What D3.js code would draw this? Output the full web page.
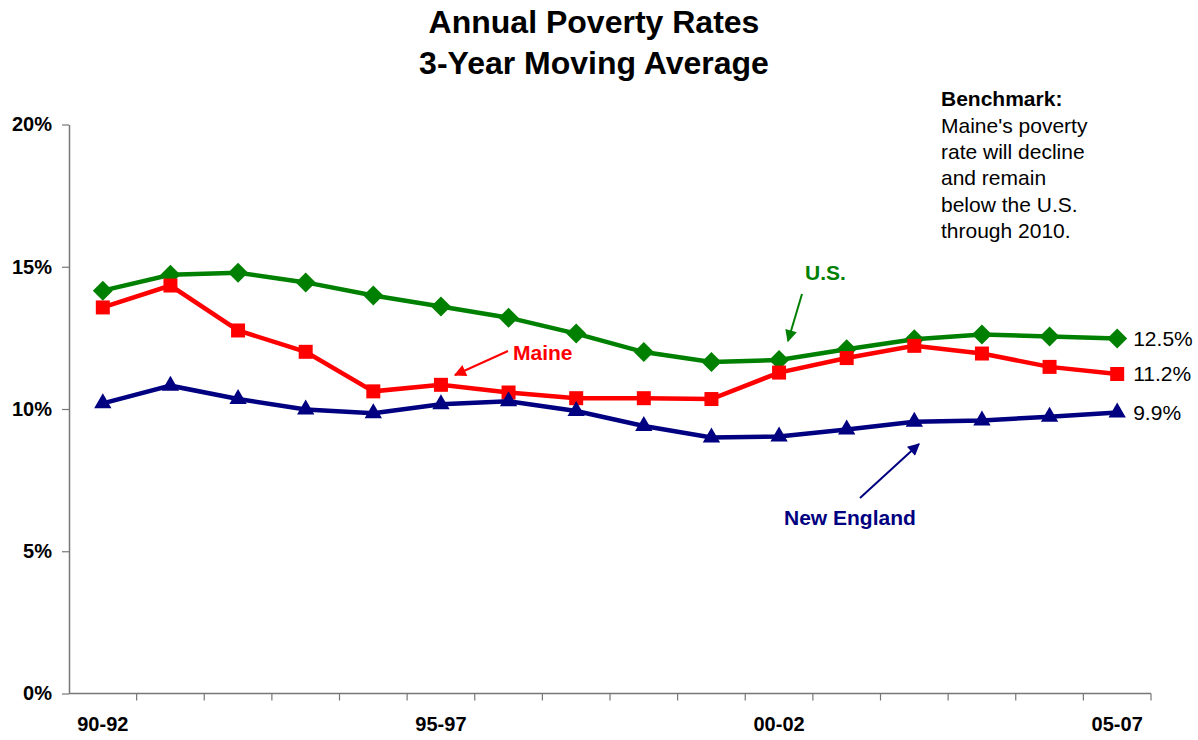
<!DOCTYPE html>
<html><head><meta charset="utf-8">
<script src="https://cdn.jsdelivr.net/npm/d3@7"></script>
<style>body{margin:0;background:#fff}svg{display:block;font-family:"Liberation Sans",Arial,sans-serif}</style>
</head><body><svg id="c" width="1198" height="740"></svg>
<script>
const categories = ["90-92","91-93","92-94","93-95","94-96","95-97","96-98","97-99","98-00","99-01","00-02","01-03","02-04","03-05","04-06","05-07"];
const shownLabels = ["90-92","95-97","00-02","05-07"];
const usValues = [14.16,14.72,14.79,14.45,13.99,13.60,13.21,12.65,12.00,11.65,11.72,12.10,12.45,12.62,12.55,12.48];
const maineValues = [13.57,14.34,12.76,12.01,10.62,10.85,10.58,10.38,10.38,10.35,11.28,11.79,12.22,11.95,11.48,11.23];
const neValues = [10.20,10.82,10.35,9.98,9.85,10.17,10.27,9.93,9.40,9.00,9.03,9.28,9.55,9.60,9.73,9.88];
const yTicks = [0,5,10,15,20];
const endLabels = ["12.5%","11.2%","9.9%"];

const svg = d3.select("#c");
const pLeft = 69, pRight = 1151, pTop = 124.5, pBottom = 693.5;
const x = d3.scaleBand().domain(categories).range([pLeft, pRight]);
const y = d3.scaleLinear().domain([0,20]).range([pBottom, pTop]);
const cx = c => x(c) + x.bandwidth()/2;

// title
svg.append("text").attr("x",594).attr("y",33).attr("text-anchor","middle")
  .attr("font-size",32).attr("font-weight","bold").text("Annual Poverty Rates");
svg.append("text").attr("x",594).attr("y",74).attr("text-anchor","middle")
  .attr("font-size",32).attr("font-weight","bold").text("3-Year Moving Average");

// y axis
const yAxis = svg.append("g").attr("transform",`translate(${pLeft},0)`)
  .call(d3.axisLeft(y).tickValues(yTicks).tickFormat(d=>d+"%").tickSize(7).tickPadding(10).tickSizeOuter(0));
yAxis.select(".domain").attr("stroke","#777").attr("stroke-width",1.5);
yAxis.selectAll(".tick line").attr("stroke","#777").attr("stroke-width",1.2);
yAxis.selectAll("text").attr("font-size",20).attr("font-weight","bold").attr("fill","#000")
  .attr("font-family","Liberation Sans, Arial, sans-serif");

// x axis
const xg = svg.append("g").attr("transform",`translate(0,${pBottom})`);
xg.append("line").attr("x1",pLeft).attr("x2",pRight).attr("stroke","#777").attr("stroke-width",1.5);
const bounds = categories.map(c=>x(c)).concat([pRight]).slice(1);
xg.selectAll("line.t").data(bounds).join("line").attr("class","t")
  .attr("x1",d=>d).attr("x2",d=>d).attr("y1",0).attr("y2",7).attr("stroke","#777").attr("stroke-width",1.2);
xg.selectAll("text").data(shownLabels).join("text")
  .attr("x",d=>cx(d)).attr("y",37).attr("text-anchor","middle")
  .attr("font-size",20).attr("font-weight","bold").text(d=>d);

const line = d3.line().x((d,i)=>cx(categories[i])).y(d=>y(d));
const series = [
  {vals:usValues,color:"#008000",shape:d3.symbolSquare,size:200,rot:45},
  {vals:maineValues,color:"#FF0000",shape:d3.symbolSquare,size:196,rot:0},
  {vals:neValues,color:"#000080",shape:d3.symbolTriangle,size:130,rot:0}
];
series.forEach(s=>{
  svg.append("path").attr("d",line(s.vals)).attr("fill","none").attr("stroke",s.color).attr("stroke-width",4.5);
  svg.selectAll(null).data(s.vals).join("path")
    .attr("transform",(d,i)=>`translate(${cx(categories[i])},${y(d)}) rotate(${s.rot})`)
    .attr("d",d3.symbol().type(s.shape).size(s.size)).attr("fill",s.color);
});

// end labels
[usValues,maineValues,neValues].forEach((v,i)=>{
  svg.append("text").attr("x",cx(categories[15])+16).attr("y",y(v[15])).attr("dy","0.35em")
    .attr("font-size",21).text(endLabels[i]);
});

// benchmark
const bm = ["Maine's poverty","rate will decline","and remain","below the U.S.","through 2010."];
svg.append("text").attr("x",941).attr("y",106).attr("font-size",21).attr("font-weight","bold").text("Benchmark:");
bm.forEach((t,i)=>svg.append("text").attr("x",941).attr("y",133+i*26.2).attr("font-size",21).text(t));

// annotation arrows
const defs = svg.append("defs");
[["g","#008000"],["r","#FF0000"],["n","#000080"]].forEach(([id,col])=>{
  defs.append("marker").attr("id","ah"+id).attr("viewBox","0 0 10 10").attr("refX",9).attr("refY",5)
    .attr("markerWidth",7).attr("markerHeight",6).attr("orient","auto")
    .append("path").attr("d","M0,0L10,5L0,10z").attr("fill",col);
});
function arrow(x1,y1,x2,y2,id,col){
  svg.append("line").attr("x1",x1).attr("y1",y1).attr("x2",x2).attr("y2",y2)
    .attr("stroke",col).attr("stroke-width",2).attr("marker-end",`url(#ah${id})`);
}
svg.append("text").attr("x",805).attr("y",280).attr("font-size",21).attr("font-weight","bold").attr("fill","#008000").text("U.S.");
arrow(802,294,788,341,"g","#008000");
svg.append("text").attr("x",513).attr("y",360).attr("font-size",21).attr("font-weight","bold").attr("fill","#FF0000").text("Maine");
arrow(508,351,455,375,"r","#FF0000");
svg.append("text").attr("x",784).attr("y",525).attr("font-size",21).attr("font-weight","bold").attr("fill","#000080").text("New England");
arrow(860,498,919,444,"n","#000080");
</script></body></html>
